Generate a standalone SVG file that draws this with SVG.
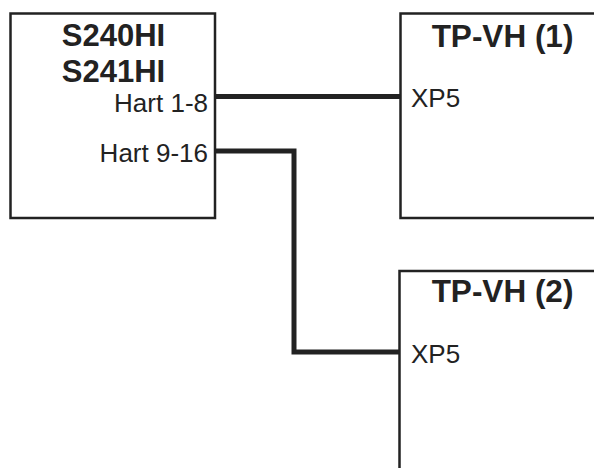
<svg xmlns="http://www.w3.org/2000/svg" width="594" height="468" viewBox="0 0 594 468">
<style>
.box{fill:#fff;stroke:#222;stroke-width:2.5}
.t{font-family:"Liberation Sans",Arial,sans-serif;fill:#222}
.b{font-weight:bold;font-size:31px}
.h{font-weight:bold;font-size:31.5px}
.r{font-size:26px}
.w{fill:none;stroke:#222;stroke-width:5;stroke-linejoin:miter}
</style>
<rect width="594" height="468" fill="#fff"/>
<g id="s240">
<rect class="box" x="10.5" y="13.5" width="204.5" height="204.5"/>
<text class="t b" x="113.5" y="46" text-anchor="middle">S240HI</text>
<text class="t b" x="113.5" y="82" text-anchor="middle">S241HI</text>
<text class="t r" x="208" y="111.5" text-anchor="end">Hart 1-8</text>
<text class="t r" x="208" y="162" text-anchor="end">Hart 9-16</text>
</g>
<g id="tpvh1">
<rect class="box" x="400.5" y="13.5" width="210" height="204.5"/>
<text class="t h" x="502.5" y="47" text-anchor="middle">TP-VH (1)</text>
<text class="t r" x="411" y="107">XP5</text>
</g>
<g id="tpvh2">
<rect class="box" x="399.5" y="271" width="210" height="210"/>
<text class="t h" x="502.5" y="302" text-anchor="middle">TP-VH (2)</text>
<text class="t r" x="411" y="363">XP5</text>
</g>
<g id="connectors">
<path class="w" d="M215 96.5H400"/>
<path class="w" d="M215 151H294V352H399"/>
</g>
</svg>
